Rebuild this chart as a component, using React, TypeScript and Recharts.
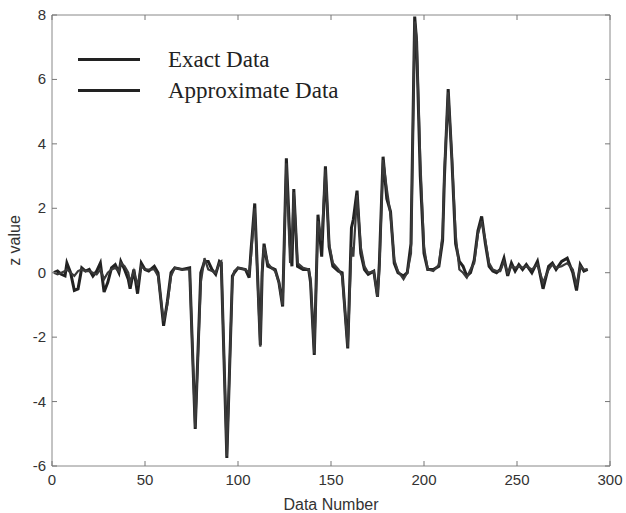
import React from 'react';
import {
  LineChart,
  Line,
  XAxis,
  YAxis,
  Legend,
} from 'recharts';

const dataNumber = [
  1, 3, 5, 7, 8, 10, 12, 14, 16, 18, 20, 22, 24, 26, 28, 30, 32, 34, 36, 37, 39, 41, 42, 44, 46, 48, 50,
  52, 55, 57, 60, 62, 64, 66, 70, 74, 77, 80, 82, 84, 86, 88, 90, 91, 94, 97, 98, 100, 104, 106, 107,
  109, 112, 113, 114, 116, 118, 120, 122, 124, 126, 128, 129, 130, 132, 135, 138, 139, 141, 143, 145,
  147, 149, 151, 154, 156, 159, 161, 162, 164, 166, 168, 170, 173, 175, 176, 178, 180, 182, 184, 186,
  189, 191, 193, 195, 196, 198, 200, 202, 205, 208, 210, 211, 213, 215, 217, 219, 221, 223, 225, 227,
  229, 231, 233, 235, 237, 239, 241, 243, 245, 247, 249, 251, 253, 255, 258, 261, 264, 267, 269, 271,
  274, 277, 280, 282, 284, 286, 288,
];

const exactZ = [
  0.0, 0.05, -0.05, -0.1, 0.3, 0.0, -0.55, -0.5, 0.15, 0.05, 0.1, -0.1, 0.05, 0.3, -0.6, -0.3, 0.15, 0.25, 0.0, 0.35, 0.1, -0.2, -0.5, 0.1, -0.65, 0.3, 0.1,
  0.05, 0.2, 0.0, -1.65, -0.9, 0.0, 0.15, 0.1, 0.15, -4.85, 0.0, 0.35, 0.35, 0.1, -0.05, 0.35, 0.3, -5.75, -0.1, 0.0, 0.15, 0.1, -0.15, 0.7,
  2.15, -2.25, 0.0, 0.9, 0.2, 0.15, 0.1, -0.3, -1.05, 3.55, 0.9, 0.2, 2.6, 0.2, 0.1, 0.1, -0.3, -2.55, 1.8, 0.5,
  3.3, 0.8, 0.2, 0.05, 0.0, -2.35, 1.4, 1.65, 2.55, 0.6, 0.1, -0.05, 0.05, -0.75, 0.3, 3.6, 2.3, 1.9, 0.3, 0.0,
  -0.1, 0.0, 0.9, 7.95, 7.2, 3.0, 0.6, 0.1, 0.1, 0.2, 1.0, 3.0, 5.7, 3.5, 0.9, 0.35, 0.2, -0.1, 0.0, 0.4,
  1.3, 1.75, 0.9, 0.2, 0.05, 0.0, 0.1, 0.45, -0.1, 0.3, 0.05, 0.25, 0.1, 0.25, 0.0, 0.35, -0.5, 0.2, 0.3, 0.1,
  0.35, 0.45, 0.0, -0.55, 0.25, 0.05, 0.1,
];

const approxZ = [
  0.0, -0.05, 0.0, 0.05, 0.1, 0.0, -0.1, 0.05, 0.1, 0.05, 0.05, 0.0, -0.05, 0.1, -0.2, 0.0, 0.1, 0.15, 0.05, 0.3, 0.2, 0.0, -0.3, 0.05, -0.4, 0.2, 0.1,
  0.1, 0.1, -0.1, -1.5, -1.0, -0.1, 0.15, 0.1, 0.1, -4.8, -0.3, 0.45, 0.1, 0.05, 0.0, 0.3, 0.35, -5.7, -0.2, 0.05, 0.15, 0.1, 0.0, 0.5,
  2.0, -2.3, 0.2, 0.8, 0.3, 0.15, 0.05, -0.3, -1.0, 3.4, 0.3, 0.9, 2.5, 0.3, 0.15, 0.1, -0.2, -2.5, 1.6, 1.0,
  3.2, 0.9, 0.3, 0.1, -0.1, -2.3, 0.8, 0.5, 2.4, 0.8, 0.2, 0.0, 0.05, -0.75, 0.1, 3.5, 2.6, 1.8, 0.4, 0.05,
  -0.2, 0.0, 0.6, 7.8, 7.3, 3.5, 0.8, 0.1, 0.05, 0.25, 1.2, 3.2, 5.6, 3.6, 1.2, 0.1, 0.0, -0.15, 0.1, 0.3,
  1.2, 1.6, 1.0, 0.3, 0.1, 0.05, 0.05, 0.35, 0.0, 0.2, 0.15, 0.2, 0.15, 0.2, 0.1, 0.25, -0.3, 0.1, 0.25, 0.15,
  0.2, 0.3, 0.1, -0.4, 0.2, 0.1, 0.1,
];

const xTicks = [0, 50, 100, 150, 200, 250, 300];
const yTicks = [-6, -4, -2, 0, 2, 4, 6, 8];

const legendItems = ['Exact Data', 'Approximate Data'];

const data = dataNumber.map((x, i) => ({ x, exact: exactZ[i], approx: approxZ[i] }));

const tickFont = { fontFamily: '"Liberation Sans", Arial, sans-serif', fontSize: 15, fill: '#333' };
const labelFont = { fontFamily: '"Liberation Sans", Arial, sans-serif', fontSize: 16, fill: '#333' };

function BottomTick({ x, y, payload }: any) {
  return (
    <g>
      <line x1={x} y1={y} x2={x} y2={y - 5} stroke="#777" />
      <text x={x} y={y + 19} textAnchor="middle" {...tickFont}>{payload.value}</text>
    </g>
  );
}

function TopTick({ x, y }: any) {
  return <line x1={x} y1={y} x2={x} y2={y + 5} stroke="#777" />;
}

function LeftTick({ x, y, payload }: any) {
  return (
    <g>
      <line x1={x} y1={y} x2={x + 5} y2={y} stroke="#777" />
      <text x={x - 6} y={y + 5} textAnchor="end" {...tickFont}>{payload.value}</text>
    </g>
  );
}

function RightTick({ x, y }: any) {
  return <line x1={x} y1={y} x2={x - 5} y2={y} stroke="#777" />;
}

function YLabel({ viewBox }: any) {
  const cx = viewBox.x + 20;
  const cy = viewBox.y + viewBox.height / 2;
  return (
    <text x={cx} y={cy} transform={`rotate(-90, ${cx}, ${cy})`} textAnchor="middle" {...labelFont}>
      z value
    </text>
  );
}

function LegendBox() {
  return (
    <div style={{ fontFamily: '"Liberation Serif", "Times New Roman", serif', fontSize: 23, color: '#222' }}>
      {legendItems.map((name) => (
        <div key={name} style={{ display: 'flex', alignItems: 'center', height: 31 }}>
          <div style={{ width: 62, height: 3, background: '#222', marginRight: 28 }} />
          <span>{name}</span>
        </div>
      ))}
    </div>
  );
}

export default function App() {
  return (
    <div style={{ position: 'absolute', left: 0, top: 0, width: 626, height: 513, background: '#fff' }}>
      <LineChart width={626} height={513} data={data} margin={{ top: 14, right: 15, left: 0, bottom: 3 }}>
        <XAxis
          dataKey="x"
          type="number"
          domain={[0, 300]}
          ticks={xTicks}
          stroke="#888"
          tickSize={0}
          tickMargin={0}
          tickLine={false}
          tick={<BottomTick />}
          height={44}
          label={{ value: 'Data Number', position: 'insideBottom', offset: 0, ...labelFont }}
        />
        <XAxis
          xAxisId="top"
          orientation="top"
          type="number"
          dataKey="x"
          domain={[0, 300]}
          allowDataOverflow
          ticks={xTicks}
          stroke="#888"
          tickSize={0}
          tickMargin={0}
          tickLine={false}
          tick={<TopTick />}
          height={1}
        />
        <YAxis
          type="number"
          domain={[-6, 8]}
          ticks={yTicks}
          stroke="#888"
          tickSize={0}
          tickMargin={0}
          tickLine={false}
          tick={<LeftTick />}
          width={52}
          label={<YLabel />}
        />
        <YAxis
          yAxisId="right"
          orientation="right"
          type="number"
          domain={[-6, 8]}
          allowDataOverflow
          ticks={yTicks}
          stroke="#888"
          tickSize={0}
          tickMargin={0}
          tickLine={false}
          tick={<RightTick />}
          width={1}
        />
        <Legend
          layout="vertical"
          align="center"
          verticalAlign="middle"
          content={<LegendBox />}
          wrapperStyle={{ left: 78, top: 44, width: 300 }}
        />
        <Line
          xAxisId="top"
          yAxisId="right"
          type="linear"
          dataKey="exact"
          stroke="none"
          legendType="none"
          dot={false}
          activeDot={false}
          isAnimationActive={false}
        />
        <Line
          type="linear"
          dataKey="exact"
          name="Exact Data"
          stroke="#222"
          strokeWidth={3}
          dot={false}
          isAnimationActive={false}
        />
        <Line
          type="linear"
          dataKey="approx"
          name="Approximate Data"
          stroke="#3a3a3a"
          strokeWidth={2.2}
          dot={false}
          isAnimationActive={false}
        />
      </LineChart>
    </div>
  );
}
